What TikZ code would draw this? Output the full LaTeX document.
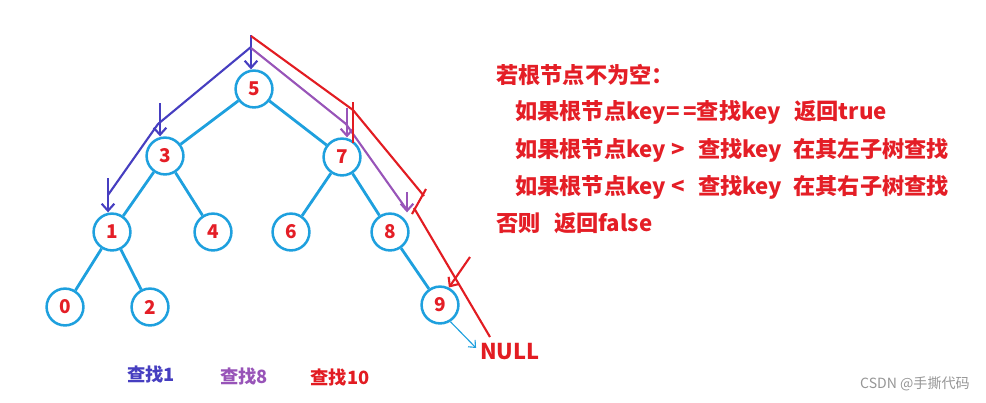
\documentclass[tikz,border=0pt]{standalone}
\usepackage{fontspec}
\setmainfont{Noto Sans CJK SC}
\usepackage{xcolor}
\usetikzlibrary{arrows.meta}

\definecolor{treeblue}{RGB}{30,160,222}
\definecolor{numred}{RGB}{228,30,38}
\definecolor{pblue}{RGB}{70,62,192}
\definecolor{ppurple}{RGB}{152,84,184}
\definecolor{pred}{RGB}{226,28,34}
\definecolor{markgray}{RGB}{150,150,150}

\begin{document}
\begin{tikzpicture}[x=0.025cm, y=-0.025cm,
  vtx/.style  = {circle, draw=treeblue, line width=1.8pt, minimum size=0.92cm,
                 inner sep=0pt, text=numred, font=\fontsize{13.5}{15}\selectfont\bfseries},
  edge/.style = {treeblue, line width=2pt},
  walk/.style = {line width=1.5pt},
  hit/.style  = {walk, -{Straight Barb[length=5pt,width=9pt]}},
  rule/.style = {anchor=west, inner sep=0pt, text=numred,
                 font=\fontsize{15.8}{18}\selectfont\bfseries},
  tag/.style  = {inner sep=0pt, font=\fontsize{13}{15}\selectfont\bfseries}
]
\useasboundingbox (0,0) rectangle (986,402);

% --- arbre ---
\node[vtx] (n5) at (254,89)  {5};
\node[vtx] (n3) at (165,156) {3};
\node[vtx] (n7) at (342,157) {7};
\node[vtx] (n1) at (112,232) {1};
\node[vtx] (n4) at (213,232) {4};
\node[vtx] (n6) at (291,232) {6};
\node[vtx] (n8) at (390,232) {8};
\node[vtx] (n0) at (65,307)  {0};
\node[vtx] (n2) at (150,307) {2};
\node[vtx] (n9) at (440,305) {9};
\foreach \a/\b in {n5/n3, n5/n7, n3/n1, n3/n4, n7/n6, n7/n8, n1/n0, n1/n2, n8/n9}
  { \draw[edge] (\a) -- (\b); }

\node[anchor=west, inner sep=0pt, text=pred, font=\fontsize{15.5}{18}\selectfont\bfseries]
  (nul) at (480,352) {NULL};
\draw[treeblue, line width=0.8pt, -{Straight Barb[length=4pt,width=7pt]}, shorten >=4pt]
  (n9.-58) -- (nul.west);

% --- recherche de 1 ---
\coordinate (b0) at (251,35);
\coordinate (b1) at (251,47);
\coordinate (b2) at (158,124);
\coordinate (b3) at (108,195);
\coordinate (b4) at (160,103);
\coordinate (b5) at (108,178);
\draw[hit, pblue] (b0) -- (b0 |- n5.north);
\draw[walk, pblue] (b1) -- (b2) -- (b3);
\draw[hit, pblue] (b4) -- (b4 |- n3.north);
\draw[hit, pblue] (b5) -- (b5 |- n1.north);

% --- recherche de 8 ---
\coordinate (p0) at (251,48);
\coordinate (p1) at (346,124);
\coordinate (p2) at (407,210);
\coordinate (p3) at (347,108);
\coordinate (p4) at (407,192);
\draw[walk, ppurple] (p0) -- (p1) -- (p2);
\draw[hit, ppurple] (p3) -- (p3 |- n7.north);
\draw[hit, ppurple] (p4) -- (p4 |- n8.north);

% --- recherche de 10 ---
\coordinate (r0) at (251,36);
\coordinate (r1) at (353,110);
\coordinate (r2) at (424,196);
\coordinate (r3) at (414,208);
\coordinate (r4) at (490,337);
\coordinate (r5) at (470,257);
\draw[walk, pred] (r0) -- (r1) -- (r2);
\draw[walk, pred] (353,102) -- (353,143);
\draw[walk, pred] (426,189) -- (412,214);
\draw[walk, pred] (r3) -- (r4);
\draw[hit, pred] (r5) -- (n9.63);

% --- legende ---
\node[tag, text=pblue]   (t1)  at (151,375) {查找1};
\node[tag, text=ppurple] (t8)  at (244,377) {查找8};
\node[tag, text=pred]    (t10) at (340,378) {查找10};

% --- regles ---
\node[rule] (l1) at (496,75)  {若根节点不为空：};
\node[rule] (l2) at (515,112) {如果根节点key=\,=查找key\hspace{0.6em}返回true};
\node[rule] (l3) at (515,150) {如果根节点key >\hspace{0.6em}查找key\hspace{0.5em}在其左子树查找};
\node[rule] (l4) at (515,187) {如果根节点key <\hspace{0.6em}查找key\hspace{0.5em}在其右子树查找};
\node[rule] (l5) at (496,223) {否则\hspace{0.6em}返回false};

\node[anchor=east, inner sep=0pt, text=markgray, font=\fontsize{10}{12}\selectfont]
  (mark) at (970,384) {CSDN @手撕代码};
\end{tikzpicture}
\end{document}
